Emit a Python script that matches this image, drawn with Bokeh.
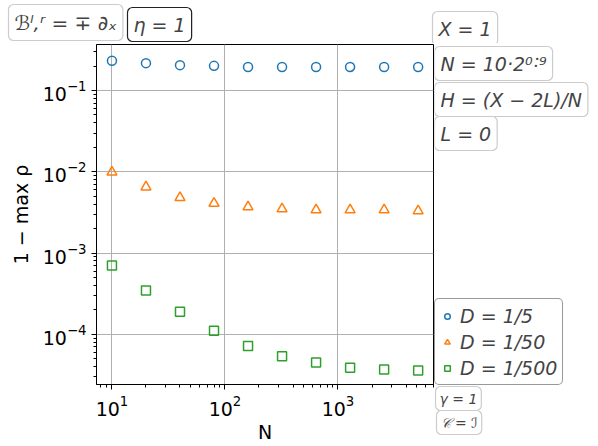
from bokeh.plotting import figure
from bokeh.models import Label, Legend, LegendItem, Range1d
from bokeh.layouts import row, column
from bokeh.embed import file_html
from bokeh.resources import INLINE

# ---- data ----
N = [10, 20, 40, 80, 160, 320, 640, 1280, 2560, 5120]
rho_D5 = [0.232, 0.217, 0.205, 0.201, 0.195, 0.195, 0.195, 0.195, 0.195, 0.195]
rho_D50 = [0.0099, 0.0065, 0.0048, 0.0041, 0.0037, 0.0035, 0.0034, 0.0034, 0.0034, 0.0033]
rho_D500 = [7.05e-4, 3.47e-4, 1.90e-4, 1.11e-4, 7.2e-5, 5.4e-5, 4.5e-5, 3.9e-5, 3.7e-5, 3.6e-5]
series_labels = ["D = 1/5", "D = 1/50", "D = 1/500"]
colors = ["#1f77b4", "#ff7f0e", "#2ca02c"]
markers = ["circle", "triangle", "square"]

FONT = "DejaVu Sans"

# ---- main plot ----
p = figure(frame_width=337, frame_height=340, x_axis_type="log", y_axis_type="log",
           x_range=Range1d(7.3, 7000), y_range=Range1d(2.42e-5, 0.368),
           output_backend="svg", toolbar_location=None,
           min_border_left=96, min_border_right=1, min_border_top=1,
           min_border_bottom=59)

p.outline_line_color = "black"
p.outline_line_width = 1
p.background_fill_color = "white"
p.border_fill_color = "white"

for ax in (p.xaxis[0], p.yaxis[0]):
    ax.axis_line_color = "black"
    ax.major_tick_line_color = "black"
    ax.minor_tick_line_color = "black"
    ax.major_tick_out = 5
    ax.major_tick_in = 0
    ax.minor_tick_out = 3
    ax.minor_tick_in = 0
    ax.major_label_text_font = FONT
    ax.major_label_text_font_size = "19px"
    ax.major_label_text_color = "black"
    ax.axis_label_text_font = FONT
    ax.axis_label_text_font_size = "19px"
    ax.axis_label_text_font_style = "normal"
    ax.axis_label_text_color = "black"

p.xaxis.axis_label = "N"
p.yaxis.axis_label = "1 − max ρ"
p.xaxis.axis_label_standoff = 2
p.yaxis.axis_label_standoff = 8

p.xgrid.grid_line_color = "#b0b0b0"
p.ygrid.grid_line_color = "#b0b0b0"

for ys, c, m in zip([rho_D5, rho_D50, rho_D500], colors, markers):
    size = 9 if m != "triangle" else 10
    p.scatter(N, ys, marker=m, size=size, line_color=c, fill_color=None, line_width=1.5)


def blank(w, h):
    f = figure(width=w, height=h, x_range=Range1d(0, w), y_range=Range1d(0, h),
               output_backend="svg", toolbar_location=None,
               x_axis_location=None, y_axis_location=None,
               min_border=0)
    f.outline_line_color = None
    f.grid.visible = False
    f.background_fill_color = "white"
    f.border_fill_color = "white"
    return f


def box(f, text, x, y, size="19px", border="#cccccc", style="italic", pad=6):
    lab = Label(x=x, y=y, text=text,
                text_font=FONT, text_font_size=size, text_font_style=style,
                text_align="left", text_baseline="top",
                background_fill_color="white", background_fill_alpha=1.0,
                border_line_color=border, border_line_width=1.2,
                padding=pad, border_radius=5)
    f.add_layout(lab)

# ---- top strip (page y 0..43, full width) ----
top = blank(596, 43)
box(top, "ℬˡ,ʳ = ∓ ∂ₓ", 8, 39, size="20px")
box(top, "η = 1", 127, 36, border="#222222")
box(top, "X = 1", 432, 32)

# ---- right strip (page x 434.., y 43..443) ----
H = 400
right = blank(162, H)
def ry(page_y):
    return 443 - page_y
box(right, "N = 10·2⁰˸⁹", 0, ry(46))
box(right, "H = (X − 2L)/N", 0, ry(82))
box(right, "L = 0", 0, ry(116))
box(right, "γ = 1", 1, ry(386), size="14px", pad=4)
box(right, "𝒞 = ℐ", 2, ry(410), size="14px", pad=4)

items = []
for lab, c, m in zip(series_labels, colors, markers):
    size = 8 if m != "triangle" else 9
    r = right.scatter([-100], [-100], marker=m, size=size, line_color=c,
                      fill_color=None, line_width=1.5)
    items.append(LegendItem(label=lab, renderers=[r]))

legend = Legend(items=items, location=(0, ry(385)))
legend.label_text_font = FONT
legend.label_text_font_size = "19px"
legend.label_text_font_style = "italic"
legend.border_line_color = "#333333"
legend.border_line_width = 1.2
legend.background_fill_alpha = 1.0
legend.padding = 5
legend.spacing = 3
legend.margin = 0
legend.glyph_width = 14
legend.label_standoff = 6
legend.label_height = 23
if "border_radius" in Legend.properties():
    legend.border_radius = 5
right.add_layout(legend, "center")

layout = column(top, row(p, column(right, spacing=0), spacing=0), spacing=0)

open("out.html", "w").write(file_html(layout, INLINE))
